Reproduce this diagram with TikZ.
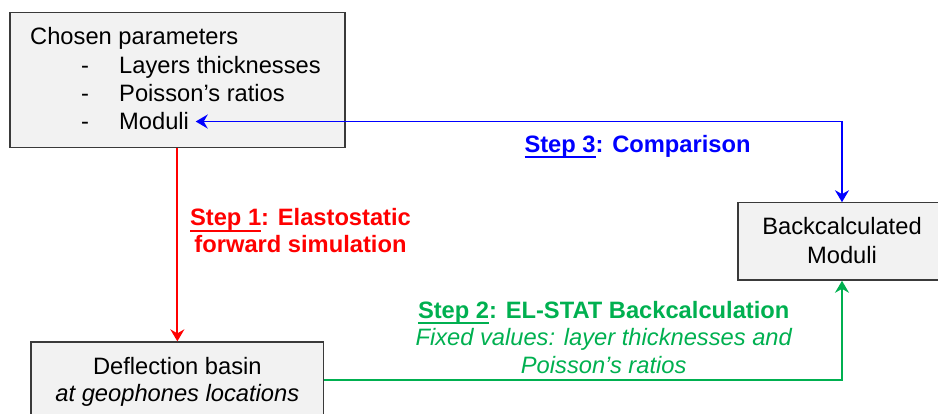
\documentclass[tikz,border=0pt]{standalone}
\usepackage{fontspec}
\setmainfont{Liberation Sans}
\usetikzlibrary{arrows.meta}
\definecolor{boxfill}{HTML}{F2F2F2}
\definecolor{boxline}{HTML}{3A3A3A}
\definecolor{sred}{HTML}{FF0000}
\definecolor{sblue}{HTML}{0000FF}
\definecolor{sgreen}{HTML}{00B050}
\newcommand{\uline}[1]{\setbox0\hbox{#1}\rlap{\raisebox{-5.6pt}{\rule{\wd0}{1.9pt}}}\box0}
\tikzset{
  tip/.tip={Stealth[length=12pt,width=14pt,inset=4pt]},
  box/.style={draw=boxline, fill=boxfill, line width=1.3pt, inner sep=0pt},
  txt/.style={inner sep=0pt, font=\fontsize{23.7}{28.4}\selectfont},
  conn/.style={line width=1.9pt, -tip},
  conn2/.style={line width=1.9pt, tip-tip}
}
\begin{document}
\begin{tikzpicture}[x=1pt,y=-1pt]
\useasboundingbox (0,0) rectangle (938,414);
\clip (0,0) rectangle (938,414);
% boxes
\node[box, minimum width=335pt, minimum height=135.5pt] (params) at (177.5,80) {};
\node[box, minimum width=292.7pt, minimum height=76pt] (basin) at (177.35,380) {};
\node[box, minimum width=208pt, minimum height=77.3pt] (back) at (842,241.5) {};
% top box text
\node[txt, anchor=base west] (chosen) at (30,45) {Chosen parameters};
\node[txt, anchor=base west] (d1) at (81,73.3) {-};
\node[txt, anchor=base west] (d2) at (81,101.7) {-};
\node[txt, anchor=base west] (d3) at (81,130) {-};
\node[txt, anchor=base west] (layers) at (119,73.3) {Layers thicknesses};
\node[txt, anchor=base west] (poisson) at (119,101.7) {Poisson’s ratios};
\node[txt, anchor=base west, inner xsep=6.5pt] (moduli) at (112.5,130) {Moduli};
% bottom box text
\node[txt, anchor=base] (defl) at (177.35,374) {Deflection basin};
\node[txt, anchor=base] (geo) at (177.35,401.7) {\itshape at geophones locations};
% right box text
\node[txt, anchor=base] (bc1) at (842,235) {Backcalculated};
\node[txt, anchor=base] (bc2) at (842,263.3) {Moduli};
% connectors
\draw[conn, sred] (params.south -| basin.north) -- (basin.north);
\draw[conn, sgreen] (basin.east) -| (back.south);
\draw[conn2, sblue] (back.north) |- (moduli.east);
% labels
\node[txt, anchor=base, text=sred, font=\fontsize{23.7}{28.4}\selectfont\bfseries] (s1a) at (300.5,226) {\uline{Step 1}: Elastostatic};
\node[txt, anchor=base, text=sred, font=\fontsize{23.7}{28.4}\selectfont\bfseries] (s1b) at (300.5,253) {forward simulation};
\node[txt, anchor=base, text=sgreen, font=\fontsize{23.7}{28.4}\selectfont\bfseries] (s2a) at (603.7,318.3) {\uline{Step 2}: EL-STAT Backcalculation};
\node[txt, anchor=base, text=sgreen, font=\fontsize{23.7}{28.4}\selectfont\itshape] (s2b) at (603.7,345.7) {Fixed values: layer thicknesses and};
\node[txt, anchor=base, text=sgreen, font=\fontsize{23.7}{28.4}\selectfont\itshape] (s2c) at (603.7,373.3) {Poisson’s ratios};
\node[txt, anchor=base west, text=sblue, font=\fontsize{23.7}{28.4}\selectfont\bfseries] (s3) at (524.3,152.7) {\uline{Step 3}: Comparison};
\end{tikzpicture}
\end{document}
